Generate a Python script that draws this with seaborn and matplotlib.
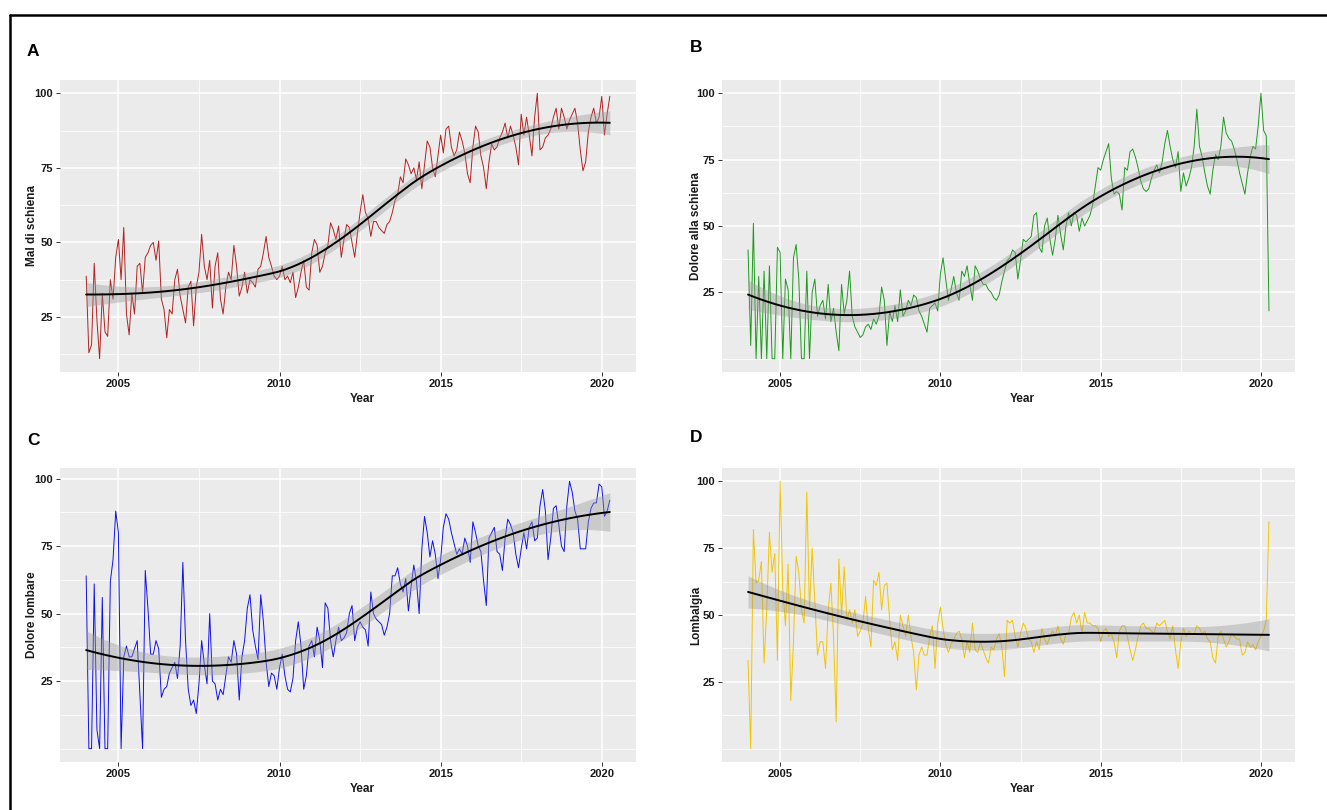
import numpy as np
import pandas as pd
import matplotlib
matplotlib.use("Agg")
import matplotlib.pyplot as plt
from matplotlib.lines import Line2D
from matplotlib.ticker import FixedLocator
import seaborn as sns

# ---------------- data (monthly, Jan 2004 - Apr 2020) ----------------
mal_di_schiena = [
    38.7, 13, 15.7, 43, 24, 11, 33, 20, 18.5, 37.5, 31, 45,
    51, 37.5, 55, 26, 19, 33, 26, 42, 43, 33, 45, 46.5,
    49, 50, 44, 50.5, 31, 27.5, 18, 27.5, 26, 37.5, 41, 32,
    27.5, 23, 35, 37, 22, 35, 40, 52.7, 42, 37.5, 44, 28,
    42, 46.5, 31, 26, 35, 40, 37.5, 49, 42, 32, 35, 40,
    33, 37.5, 36.5, 35, 41, 42, 46.5, 52, 45, 42, 38.7, 37.5,
    38.7, 42, 37.5, 38.7, 36.5, 40, 31.5, 35, 40, 44, 35, 34,
    46.5, 51, 49, 40, 42, 46.5, 49, 56.6, 54.3, 51, 55.5, 45,
    51, 56, 55, 50, 45, 53, 60, 66, 60, 58, 52, 57,
    57, 55, 54, 53, 56, 57, 60, 64, 66, 72, 70, 78,
    76, 73, 75, 71, 77, 68, 76, 84, 82, 75, 72, 79,
    86, 80, 88, 89, 82, 79, 81, 87, 84, 80, 73, 70,
    82, 89, 87, 79, 75, 68, 77, 83, 81, 82, 85, 87,
    90, 85, 89, 86, 82, 76, 93, 86, 92, 86, 79, 92,
    100, 81, 82, 85, 86, 88, 92, 95, 88, 95, 92, 88,
    91, 93, 95, 90, 81, 74, 77, 87, 92, 95, 90, 92,
    99, 86, 93, 99]

dolore_alla_schiena = [
    41, 5, 51, 0, 31, 0, 33, 0, 35, 0, 0, 42,
    40, 0, 30, 26, 0, 38, 43, 30, 0, 0, 33, 0,
    25, 30, 16, 20, 22, 15, 28, 14, 19, 10, 3, 28,
    17, 22, 33, 16, 12, 10, 8, 9, 12, 13, 11, 15,
    13, 16, 27, 22, 5, 18, 14, 20, 14, 26, 16, 18,
    22, 20, 24, 23, 18, 16, 13, 10, 19, 20, 21, 18,
    32, 38, 30, 22, 26, 31, 25, 22, 33, 31, 35, 28,
    22, 35, 33, 30, 28, 28, 26, 25, 23, 22, 24, 29,
    33, 37, 38, 41, 40, 30, 37, 45, 44, 45, 46, 54,
    55, 42, 40, 50, 53, 45, 39, 45, 54, 47, 41, 50,
    55, 50, 55, 54, 48, 53, 50, 52, 54, 58, 65, 72,
    71, 75, 78, 81, 68, 62, 63, 62, 56, 72, 71, 78,
    79, 76, 72, 67, 64, 63, 64, 68, 71, 73, 70, 74,
    81, 86, 80, 75, 72, 78, 63, 70, 65, 68, 72, 80,
    94, 80, 76, 70, 65, 62, 71, 77, 75, 80, 91, 85,
    83, 82, 79, 75, 70, 66, 62, 70, 76, 80, 79, 88,
    100, 86, 84, 18]

dolore_lombare = [
    64, 0, 0, 61, 7, 0, 56, 0, 0, 62, 70, 88,
    80, 0, 34, 38, 34, 34, 37, 40, 20, 0, 66, 52,
    35, 35, 40, 37, 19, 22, 23, 28, 30, 32, 26, 38,
    69, 40, 22, 16, 18, 13, 24, 40, 31, 24, 50, 25,
    24, 18, 22, 20, 27, 34, 32, 40, 35, 18, 34, 40,
    52, 57, 44, 38, 33, 57, 47, 32, 23, 28, 27, 22,
    30, 35, 27, 22, 21, 26, 40, 47, 38, 22, 27, 38,
    40, 34, 45, 40, 30, 54, 52, 40, 34, 40, 45, 40,
    41, 43, 50, 53, 40, 45, 47, 45, 44, 38, 58, 50,
    48, 47, 46, 42, 45, 50, 64, 64, 67, 61, 58, 63,
    51, 60, 68, 62, 50, 74, 86, 80, 71, 77, 72, 63,
    70, 82, 87, 85, 80, 76, 72, 74, 72, 78, 75, 69,
    84, 80, 75, 73, 62, 53, 78, 80, 82, 73, 72, 66,
    78, 85, 83, 80, 72, 67, 74, 80, 74, 82, 84, 77,
    78, 90, 96, 88, 70, 78, 89, 90, 83, 75, 73, 90,
    99, 95, 88, 85, 74, 74, 74, 84, 89, 91, 91, 98,
    97, 86, 88, 92]

lombalgia = [
    33, 0, 82, 62, 63, 70, 32, 52, 81, 66, 73, 33,
    100, 60, 46, 69, 18, 40, 72, 66, 52, 47, 96, 52,
    75, 55, 35, 40, 40, 30, 52, 62, 42, 10, 71, 50,
    68, 48, 52, 47, 52, 42, 44, 47, 57, 45, 38, 63,
    61, 66, 52, 61, 62, 48, 37, 40, 33, 50, 46, 42,
    50, 42, 36, 22, 35, 38, 35, 35, 42, 46, 30, 47,
    53, 45, 39, 36, 39, 41, 43, 44, 41, 34, 40, 36,
    47, 37, 36, 40, 37, 34, 32, 38, 37, 41, 43, 38,
    27, 48, 47, 48, 42, 38, 43, 47, 45, 41, 40, 36,
    40, 37, 45, 41, 39, 42, 44, 42, 46, 41, 39, 43,
    43, 49, 51, 47, 50, 43, 51, 47, 47, 46, 46, 45,
    40, 44, 45, 42, 43, 40, 34, 44, 46, 46, 42, 37,
    33, 37, 42, 46, 47, 45, 45, 44, 43, 47, 46, 47,
    48, 44, 41, 46, 37, 30, 40, 45, 42, 44, 43, 43,
    46, 45, 43, 44, 41, 40, 34, 32, 42, 44, 41, 38,
    40, 43, 42, 41, 41, 35, 36, 40, 38, 39, 37, 40,
    42, 44, 48, 85]

panel_letters = ["A", "B", "C", "D"]
y_titles = ["Mal di schiena", "Dolore alla schiena", "Dolore lombare", "Lombalgia"]
line_colors = ["#B22222", "#1E9A1E", "#1010F0", "#F2C500"]
series = [mal_di_schiena, dolore_alla_schiena, dolore_lombare, lombalgia]
x_ticks = [2005, 2010, 2015, 2020]
y_ticks = [25, 50, 75, 100]

dates = pd.date_range("2004-01-01", periods=len(mal_di_schiena), freq="MS")
year_dec = dates.year + (dates.month - 1) / 12.0


# ---------------- loess (like ggplot geom_smooth default) ----------------
def loess_smooth(x, y, xg, span=0.75):
    x = np.asarray(x, float)
    y = np.asarray(y, float)
    n = len(x)
    q = int(np.floor(n * span))

    def row(x0):
        d = np.abs(x - x0)
        h = np.sort(d)[q - 1]
        w = np.clip(1 - (d / h) ** 3, 0, None) ** 3
        X = np.column_stack([np.ones(n), x - x0, (x - x0) ** 2])
        XtW = X.T * w
        return np.linalg.solve(XtW @ X, XtW)[0]

    L = np.array([row(v) for v in x])
    res = y - L @ y
    IL = np.eye(n) - L
    M = IL.T @ IL
    d1 = np.trace(M)
    s = np.sqrt(res @ res / d1)
    Lg = np.array([row(v) for v in xg])
    fit = Lg @ y
    se = s * np.sqrt((Lg ** 2).sum(axis=1))
    return fit, fit - 1.97 * se, fit + 1.97 * se


# ---------------- style ----------------
sns.set_theme(style="darkgrid")
plt.rcParams["font.family"] = ["Liberation Sans", "DejaVu Sans"]
plt.rcParams["axes.facecolor"] = "#EBEBEB"

W, H = 1327, 810
fig = plt.figure(figsize=(W / 100, H / 100), dpi=100)
fig.patch.set_facecolor("white")

# panel boxes in pixels: left, top, right, bottom
boxes = [(60, 80, 636, 372), (722, 80, 1295, 372),
         (60, 468, 636, 762), (722, 468, 1295, 762)]
letter_pos = [(27, 52), (690, 47), (27, 441), (690, 437)]
ylab_x = [38, 702, 38, 702]

for i in range(4):
    l, t, r, b = boxes[i]
    ax = fig.add_axes([l / W, 1 - b / H, (r - l) / W, (b - t) / H])
    ax.set_facecolor("#EBEBEB")
    vals = np.asarray(series[i], float)
    df = pd.DataFrame({"Year": year_dec, "value": vals})
    sns.lineplot(data=df, x="Year", y="value", ax=ax, color=line_colors[i],
                 linewidth=0.7, estimator=None, zorder=3)
    xg = np.linspace(year_dec.min(), year_dec.max(), 80)
    fit, lo, hi = loess_smooth(df["Year"].values - 2012, vals, xg - 2012)
    ax.fill_between(xg, lo, hi, color="#999999", alpha=0.4, linewidth=0, zorder=4)
    sns.lineplot(x=xg, y=fit, ax=ax, color="black", linewidth=1.4, zorder=5)

    xr = year_dec.max() - year_dec.min()
    ax.set_xlim(year_dec.min() - 0.05 * xr, year_dec.max() + 0.05 * xr)
    lo_all = min(vals.min(), lo.min())
    hi_all = max(vals.max(), hi.max())
    yr = hi_all - lo_all
    ax.set_ylim(lo_all - 0.05 * yr, hi_all + 0.05 * yr)

    ax.xaxis.set_major_locator(FixedLocator(x_ticks))
    ax.xaxis.set_minor_locator(FixedLocator([2002.5, 2007.5, 2012.5, 2017.5]))
    ax.yaxis.set_major_locator(FixedLocator(y_ticks))
    ax.yaxis.set_minor_locator(FixedLocator([0, 12.5, 37.5, 62.5, 87.5]))
    ax.set_xticklabels([str(v) for v in x_ticks])
    ax.set_yticklabels([str(v) for v in y_ticks])
    ax.grid(which="major", color="white", linewidth=1.1)
    ax.grid(which="minor", color="white", linewidth=0.55)
    ax.tick_params(axis="both", which="major", direction="out", length=3,
                   width=0.7, color="#333333", pad=2, labelsize=8,
                   labelcolor="#1a1a1a", bottom=True, left=True)
    ax.tick_params(axis="both", which="minor", length=0)
    for lab in ax.get_xticklabels() + ax.get_yticklabels():
        lab.set_fontweight("bold")
    for sp in ax.spines.values():
        sp.set_visible(False)

    ax.set_xlabel("Year", fontsize=8.5, fontweight="bold", color="#1a1a1a")
    ax.xaxis.set_label_coords(0.524, -21 / (b - t), transform=ax.transAxes)
    ax.set_ylabel(y_titles[i], fontsize=8.5, fontweight="bold", color="#1a1a1a")
    ax.yaxis.set_label_coords((ylab_x[i] - l) / (r - l), 0.5, transform=ax.transAxes)

    lx, ly = letter_pos[i]
    fig.text(lx / W, 1 - ly / H, panel_letters[i], fontsize=12.5,
             fontweight="bold", va="center", ha="left", color="black")

# outer frame lines (top and left)
fig.add_artist(Line2D([9.5 / W, 1.0], [1 - 14.5 / H, 1 - 14.5 / H],
                      transform=fig.transFigure, color="black", linewidth=1.8))
fig.add_artist(Line2D([9.5 / W, 9.5 / W], [0, 1 - 14.5 / H],
                      transform=fig.transFigure, color="black", linewidth=1.8))

fig.savefig("out.png", dpi=100, facecolor="white")
